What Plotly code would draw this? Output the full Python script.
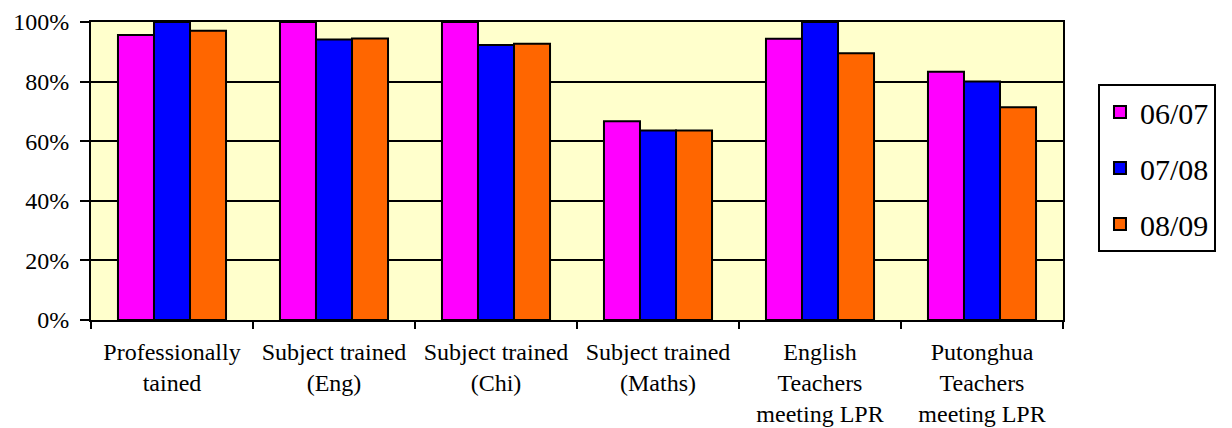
import plotly.graph_objects as go

categories = [
    "Professionally<br>tained",
    "Subject trained<br>(Eng)",
    "Subject trained<br>(Chi)",
    "Subject trained<br>(Maths)",
    "English<br>Teachers<br>meeting LPR",
    "Putonghua<br>Teachers<br>meeting LPR",
]
y0607 = [0.956, 1.00, 1.00, 0.667, 0.944, 0.833]
y0708 = [1.00, 0.941, 0.923, 0.636, 1.00, 0.800]
y0809 = [0.971, 0.945, 0.927, 0.636, 0.895, 0.714]

series = [
    ("06/07", y0607, "#FF00FF"),
    ("07/08", y0708, "#0000FF"),
    ("08/09", y0809, "#FF6600"),
]

FONT = "Liberation Serif, Times New Roman, serif"

fig = go.Figure()
for name, vals, color in series:
    fig.add_trace(go.Bar(
        x=categories,
        y=vals,
        name=name,
        legendgroup=name,
        marker=dict(color=color, line=dict(color="black", width=2)),
    ))

# the page body adds an 8px margin, so the figure is 8px smaller each way
fig.update_layout(
    width=1224,
    height=420,
    barmode="group",
    bargap=0.333,
    bargroupgap=0,
    plot_bgcolor="#FFFFCC",
    paper_bgcolor="white",
    font=dict(family=FONT, size=24, color="black"),
    margin=dict(l=83, r=169, t=14, b=108),
    xaxis=dict(
        type="category",
        tickson="boundaries",
        ticks="outside",
        ticklen=7,
        tickwidth=2,
        tickcolor="black",
        ticklabelstandoff=9,
        showline=True,
        linecolor="black",
        linewidth=2,
        mirror=True,
        showgrid=False,
        automargin=False,
        tickfont=dict(family=FONT, size=24),
    ),
    yaxis=dict(
        range=[0, 1],
        dtick=0.2,
        tickformat=".0%",
        ticks="outside",
        ticklen=9,
        tickwidth=2,
        tickcolor="black",
        ticklabelstandoff=6,
        showline=True,
        linecolor="black",
        linewidth=2,
        mirror=True,
        showgrid=True,
        gridcolor="black",
        gridwidth=2,
        zeroline=False,
        automargin=False,
        tickfont=dict(family=FONT, size=24),
    ),
    legend=dict(
        x=1.036,
        y=0.792,
        xanchor="left",
        yanchor="top",
        bordercolor="black",
        borderwidth=2,
        bgcolor="white",
        font=dict(family=FONT, size=30),
        tracegroupgap=14,
    ),
)

fig.write_html("out.html")
